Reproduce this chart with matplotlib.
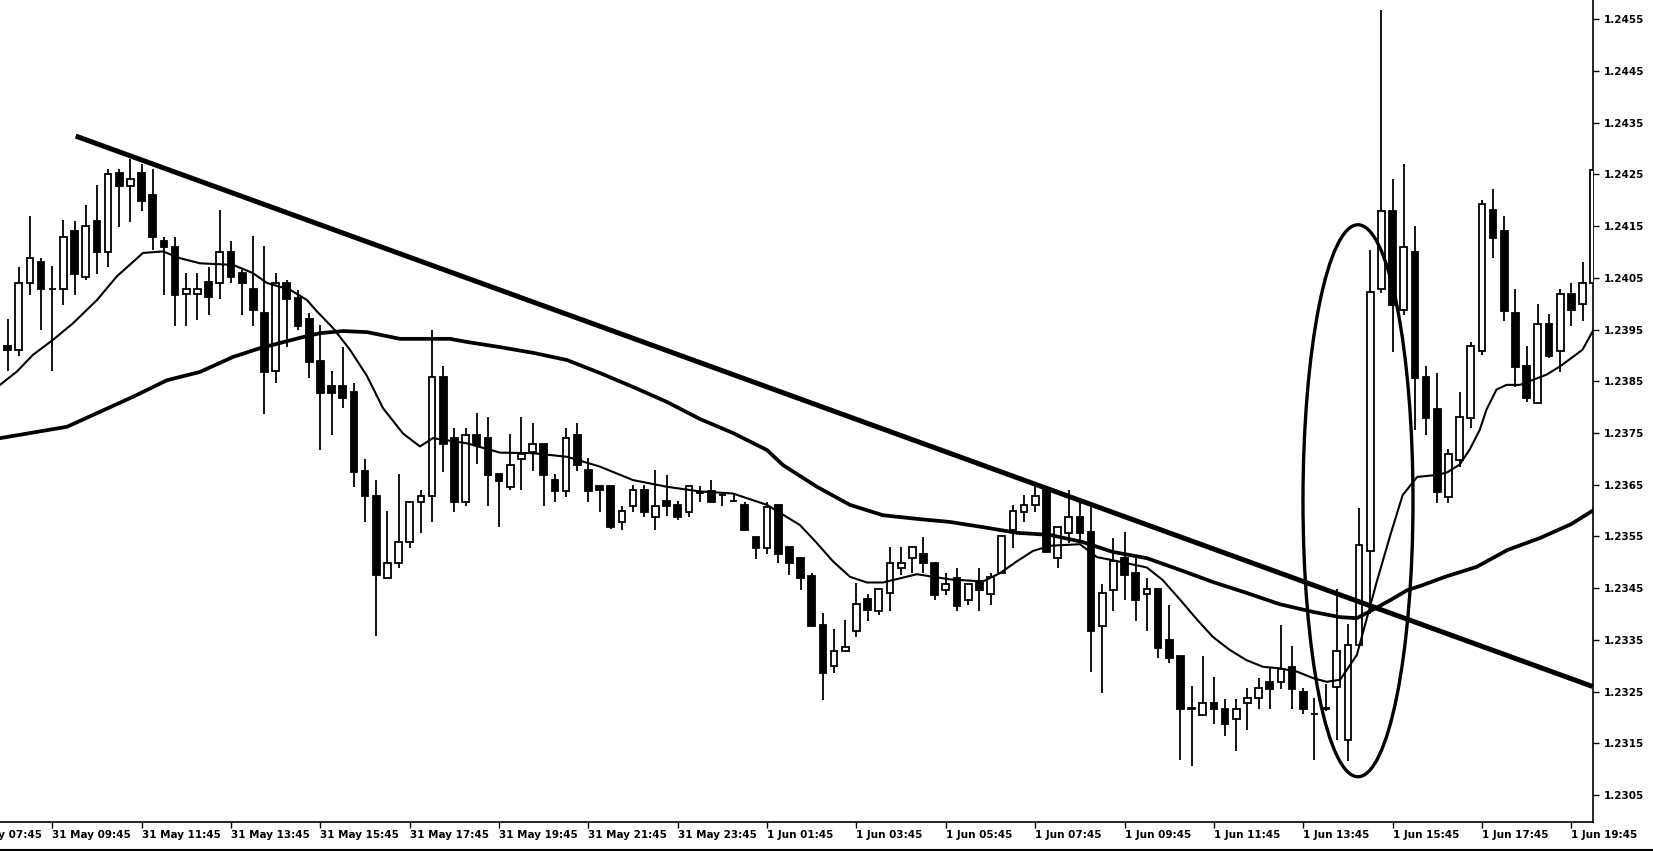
import matplotlib
matplotlib.use("Agg")
import matplotlib.pyplot as plt
from matplotlib.patches import Ellipse
from matplotlib.lines import Line2D
import numpy as np

# 15-minute candles, 31 May 08:45 .. 1 Jun 20:15
opens = [1.23919, 1.23910, 1.24040, 1.24080, 1.24028, 1.24028, 1.24141, 1.24051, 1.24159, 1.24099,
         1.24252, 1.24228, 1.24252, 1.24210, 1.24122, 1.24110, 1.24019, 1.24019, 1.24041, 1.24040,
         1.24099, 1.24059, 1.24029, 1.23982, 1.23869, 1.24040, 1.24011, 1.23970, 1.23889, 1.23840,
         1.23840, 1.23829, 1.23677, 1.23628, 1.23469, 1.23498, 1.23539, 1.23617, 1.23628, 1.23859,
         1.23740, 1.23616, 1.23747, 1.23740, 1.23670, 1.23646, 1.23699, 1.23714, 1.23728, 1.23659,
         1.23638, 1.23747, 1.23679, 1.23648, 1.23648, 1.23577, 1.23609, 1.23639, 1.23588, 1.23619,
         1.23611, 1.23598, 1.23634, 1.23638, 1.23630, 1.23619, 1.23611, 1.23548, 1.23527, 1.23611,
         1.23529, 1.23508, 1.23473, 1.23379, 1.23299, 1.23328, 1.23368, 1.23429, 1.23405, 1.23440,
         1.23489, 1.23508, 1.23517, 1.23499, 1.23447, 1.23470, 1.23427, 1.23463, 1.23439, 1.23479,
         1.23563, 1.23598, 1.23610, 1.23640, 1.23508, 1.23557, 1.23588, 1.23559, 1.23377, 1.23447,
         1.23508, 1.23479, 1.23439, 1.23449, 1.23349, 1.23319, 1.23216, 1.23205, 1.23229, 1.23217,
         1.23198, 1.23229, 1.23237, 1.23269, 1.23269, 1.23298, 1.23249, 1.23206, 1.23216, 1.23259,
         1.23157, 1.23340, 1.23522, 1.24028, 1.24179, 1.23988, 1.24100, 1.23858, 1.23796, 1.23626,
         1.23698, 1.23779, 1.23908, 1.24181, 1.24140, 1.23982, 1.23879, 1.23808, 1.23961, 1.23908,
         1.24019, 1.23999, 1.24040]
highs = [1.23970, 1.24071, 1.24170, 1.24089, 1.24072, 1.24161, 1.24159, 1.24191, 1.24230, 1.24260,
         1.24260, 1.24279, 1.24270, 1.24260, 1.24128, 1.24128, 1.24059, 1.24059, 1.24070, 1.24181,
         1.24122, 1.24065, 1.24130, 1.24112, 1.24059, 1.24045, 1.24027, 1.23982, 1.23959, 1.23870,
         1.23917, 1.23847, 1.23699, 1.23659, 1.23600, 1.23670, 1.23617, 1.23640, 1.23950, 1.23879,
         1.23759, 1.23759, 1.23789, 1.23780, 1.23670, 1.23748, 1.23780, 1.23770, 1.23728, 1.23670,
         1.23759, 1.23770, 1.23701, 1.23648, 1.23648, 1.23609, 1.23649, 1.23649, 1.23679, 1.23669,
         1.23619, 1.23648, 1.23648, 1.23659, 1.23633, 1.23633, 1.23616, 1.23548, 1.23617, 1.23611,
         1.23529, 1.23508, 1.23479, 1.23402, 1.23371, 1.23389, 1.23460, 1.23439, 1.23449, 1.23529,
         1.23529, 1.23529, 1.23548, 1.23499, 1.23479, 1.23489, 1.23459, 1.23489, 1.23479, 1.23550,
         1.23611, 1.23630, 1.23648, 1.23640, 1.23569, 1.23640, 1.23617, 1.23610, 1.23458, 1.23547,
         1.23559, 1.23514, 1.23469, 1.23449, 1.23418, 1.23319, 1.23260, 1.23319, 1.23278, 1.23236,
         1.23236, 1.23258, 1.23277, 1.23295, 1.23378, 1.23338, 1.23258, 1.23237, 1.23265, 1.23448,
         1.23381, 1.23605, 1.24103, 1.24568, 1.24241, 1.24270, 1.24150, 1.23880, 1.23866, 1.23719,
         1.23829, 1.23925, 1.24200, 1.24222, 1.24169, 1.24028, 1.23918, 1.23999, 1.23980, 1.24028,
         1.24040, 1.24081, 1.24440]
lows = [1.23869, 1.23898, 1.24017, 1.23950, 1.23869, 1.23998, 1.24017, 1.24045, 1.24058, 1.24071,
        1.24149, 1.24157, 1.24180, 1.24104, 1.24017, 1.23957, 1.23957, 1.23968, 1.23979, 1.24009,
        1.24039, 1.23979, 1.23957, 1.23787, 1.23847, 1.23917, 1.23950, 1.23856, 1.23717, 1.23746,
        1.23798, 1.23646, 1.23577, 1.23357, 1.23469, 1.23489, 1.23527, 1.23557, 1.23577, 1.23675,
        1.23598, 1.23608, 1.23691, 1.23608, 1.23569, 1.23639, 1.23639, 1.23677, 1.23608, 1.23617,
        1.23627, 1.23677, 1.23617, 1.23598, 1.23565, 1.23563, 1.23598, 1.23588, 1.23563, 1.23590,
        1.23582, 1.23587, 1.23617, 1.23616, 1.23609, 1.23616, 1.23563, 1.23506, 1.23517, 1.23498,
        1.23476, 1.23447, 1.23376, 1.23234, 1.23286, 1.23328, 1.23356, 1.23386, 1.23398, 1.23405,
        1.23476, 1.23479, 1.23479, 1.23427, 1.23437, 1.23405, 1.23418, 1.23405, 1.23418, 1.23479,
        1.23527, 1.23577, 1.23598, 1.23519, 1.23489, 1.23537, 1.23537, 1.23288, 1.23247, 1.23405,
        1.23427, 1.23386, 1.23368, 1.23315, 1.23306, 1.23117, 1.23106, 1.23205, 1.23187, 1.23165,
        1.23136, 1.23176, 1.23216, 1.23216, 1.23256, 1.23216, 1.23206, 1.23117, 1.23213, 1.23157,
        1.23116, 1.23340, 1.23400, 1.24020, 1.23907, 1.23978, 1.23756, 1.23746, 1.23615, 1.23615,
        1.23685, 1.23760, 1.23900, 1.24088, 1.23967, 1.23839, 1.23809, 1.23808, 1.23895, 1.23868,
        1.23957, 1.23967, 1.24040]
closes = [1.23910, 1.24040, 1.24089, 1.24028, 1.24029, 1.24129, 1.24058, 1.24151, 1.24099, 1.24250,
          1.24228, 1.24241, 1.24199, 1.24128, 1.24109, 1.24017, 1.24028, 1.24028, 1.24013, 1.24099,
          1.24051, 1.24040, 1.23987, 1.23868, 1.24040, 1.24009, 1.23956, 1.23887, 1.23827, 1.23828,
          1.23817, 1.23675, 1.23628, 1.23476, 1.23498, 1.23539, 1.23617, 1.23629, 1.23859, 1.23729,
          1.23617, 1.23746, 1.23727, 1.23668, 1.23658, 1.23689, 1.23709, 1.23728, 1.23669, 1.23638,
          1.23740, 1.23688, 1.23637, 1.23639, 1.23569, 1.23599, 1.23639, 1.23598, 1.23609, 1.23609,
          1.23588, 1.23648, 1.23635, 1.23617, 1.23630, 1.23619, 1.23563, 1.23527, 1.23606, 1.23517,
          1.23498, 1.23469, 1.23376, 1.23286, 1.23329, 1.23337, 1.23419, 1.23407, 1.23449, 1.23499,
          1.23498, 1.23529, 1.23498, 1.23437, 1.23459, 1.23416, 1.23459, 1.23447, 1.23472, 1.23550,
          1.23600, 1.23610, 1.23629, 1.23519, 1.23569, 1.23588, 1.23556, 1.23368, 1.23440, 1.23502,
          1.23476, 1.23427, 1.23448, 1.23335, 1.23315, 1.23216, 1.23218, 1.23229, 1.23216, 1.23187,
          1.23217, 1.23237, 1.23258, 1.23256, 1.23293, 1.23256, 1.23216, 1.23207, 1.23219, 1.23329,
          1.23340, 1.23534, 1.24022, 1.24179, 1.23997, 1.24110, 1.23856, 1.23779, 1.23635, 1.23709,
          1.23781, 1.23918, 1.24193, 1.24127, 1.23986, 1.23878, 1.23818, 1.23961, 1.23899, 1.24019,
          1.23988, 1.24040, 1.24258]

# moving averages (bar position, price)
fast_ma_x = [-0.68, 0.84, 2.27, 4.06, 5.85, 8.0, 9.79, 12.12, 13.91, 15.43, 17.22, 20.18, 21.97, 23.22,
             25.28, 26.8, 27.7, 29.13, 30.65, 32.18, 33.61, 35.4, 36.92, 38.08, 41.13, 44.08, 47.04,
             50.08, 53.03, 55.99, 59.03, 61.99, 64.94, 67.99, 70.94, 72.46, 73.89, 75.42, 76.94, 78.37,
             79.89, 81.41, 84.37, 87.32, 88.84, 90.37, 91.8, 93.32, 96.01, 97.53, 98.96, 102.0, 103.4,
             105.0, 106.5, 107.9, 109.4, 110.9, 112.4, 113.9, 115.4, 116.9, 118.1, 119.3, 120.8, 122.6,
             123.8, 124.9, 126.2, 128.0, 128.9, 130.0, 130.9, 131.8, 132.4, 133.3, 134.2, 135.4, 136.6,
             137.8, 139.0, 140.2, 141.0, 142.0]
fast_ma_y = [1.23843, 1.23869, 1.23901, 1.23930, 1.23962, 1.24007, 1.24053, 1.24098, 1.24101, 1.24088,
             1.24078, 1.24075, 1.24059, 1.24040, 1.24027, 1.24007, 1.23985, 1.23953, 1.23911, 1.23860,
             1.23798, 1.23749, 1.23724, 1.23740, 1.23730, 1.23712, 1.23711, 1.23704, 1.23685, 1.23659,
             1.23646, 1.23637, 1.23633, 1.23611, 1.23572, 1.23537, 1.23502, 1.23472, 1.23461, 1.23461,
             1.23469, 1.23477, 1.23467, 1.23463, 1.23479, 1.23502, 1.23522, 1.23532, 1.23535, 1.23510,
             1.23504, 1.23490, 1.23466, 1.23427, 1.23389, 1.23356, 1.23331, 1.23311, 1.23298, 1.23295,
             1.23289, 1.23276, 1.23269, 1.23273, 1.23321, 1.23464, 1.23553, 1.23630, 1.23665, 1.23669,
             1.23674, 1.23689, 1.23718, 1.23756, 1.23795, 1.23834, 1.23843, 1.23843, 1.23853, 1.23863,
             1.23879, 1.23898, 1.23911, 1.23950]
slow_ma_x = [-0.68, 5.32, 8.27, 11.23, 14.27, 17.22, 20.18, 22.6, 26.18, 27.97, 30.03, 32.18, 35.13,
             39.61, 41.13, 44.08, 47.04, 50.08, 53.03, 55.99, 59.03, 61.99, 64.94, 67.99, 69.42, 72.46,
             75.42, 78.37, 81.41, 84.37, 87.32, 90.37, 93.32, 96.28, 98.96, 102.0, 105.0, 107.9, 110.9,
             113.9, 116.9, 119.3, 120.8, 122.2, 123.8, 125.3, 126.7, 128.7, 131.5, 134.3, 137.2, 140.0,
             142.0]
slow_ma_y = [1.23740, 1.23762, 1.23791, 1.23820, 1.23852, 1.23868, 1.23897, 1.23914, 1.23934, 1.23943,
             1.23947, 1.23945, 1.23932, 1.23932, 1.23926, 1.23916, 1.23905, 1.23891, 1.23866, 1.23839,
             1.23810, 1.23777, 1.23750, 1.23717, 1.23688, 1.23646, 1.23611, 1.23591, 1.23584, 1.23578,
             1.23568, 1.23557, 1.23553, 1.23539, 1.23520, 1.23508, 1.23485, 1.23462, 1.23441, 1.23419,
             1.23404, 1.23394, 1.23392, 1.23408, 1.23427, 1.23446, 1.23456, 1.23472, 1.23491, 1.23524,
             1.23547, 1.23574, 1.23601]

# hand-drawn trend line and ellipse
trend_x = [6.1, 141.9]
trend_y = [1.24324, 1.23260]
ellipse_center = (120.9, 1.23619)
ellipse_w, ellipse_h = 9.85, 0.01067

price_ticks = [1.2305, 1.2315, 1.2325, 1.2335, 1.2345, 1.2355, 1.2365, 1.2375,
               1.2385, 1.2395, 1.2405, 1.2415, 1.2425, 1.2435, 1.2445, 1.2455]
time_labels = ['31 May 07:45', '31 May 09:45', '31 May 11:45', '31 May 13:45', '31 May 15:45',
               '31 May 17:45', '31 May 19:45', '31 May 21:45', '31 May 23:45', '1 Jun 01:45',
               '1 Jun 03:45', '1 Jun 05:45', '1 Jun 07:45', '1 Jun 09:45', '1 Jun 11:45',
               '1 Jun 13:45', '1 Jun 15:45', '1 Jun 17:45', '1 Jun 19:45']
time_label_bars = [-4, 4, 12, 20, 28, 36, 44, 52, 60, 68, 76, 84, 92, 100, 108, 116, 124, 132, 140]

o = np.array(opens)
h = np.array(highs)
l = np.array(lows)
c = np.array(closes)
x = np.arange(len(o))

fig = plt.figure(figsize=(16.53, 8.51), dpi=100)
ax = fig.add_axes([0, 29 / 851, 1593 / 1653, 822 / 851])

# wicks then bodies (white body hides the wick inside it)
ax.vlines(x, l, h, color='black', linewidth=1.3, zorder=2)
up = c >= o
body_bottom = np.minimum(o, c)
body_height = np.abs(c - o)
ax.bar(x[up], body_height[up], bottom=body_bottom[up], width=0.6,
       facecolor='white', edgecolor='black', linewidth=1.3, zorder=3)
ax.bar(x[~up], body_height[~up], bottom=body_bottom[~up], width=0.6,
       facecolor='black', edgecolor='black', linewidth=1.3, zorder=3)

ax.plot(slow_ma_x, slow_ma_y, color='black', linewidth=2.7, zorder=4)
ax.plot(fast_ma_x, fast_ma_y, color='black', linewidth=1.5, zorder=4)
ax.plot(trend_x, trend_y, color='black', linewidth=3.6, solid_capstyle='butt', zorder=5)
ax.add_patch(Ellipse(ellipse_center, ellipse_w, ellipse_h, fill=False,
                     edgecolor='black', linewidth=2.4, zorder=5))

ax.set_xlim(-0.68, 141.94)
ax.set_ylim(1.22998, 1.24587)

# axes look
for side in ['top', 'left']:
    ax.spines[side].set_visible(False)
for side in ['right', 'bottom']:
    ax.spines[side].set_linewidth(1.2)
ax.yaxis.tick_right()
ax.set_yticks(price_ticks)
ax.set_yticklabels([f'{p:.4f}' for p in price_ticks], fontweight='bold')
ax.tick_params(axis='y', direction='out', length=4, width=1, pad=4, labelsize=7.5)
ax.set_xticks([b for b in time_label_bars if b >= 0])
ax.set_xticklabels([])
ax.tick_params(axis='x', direction='out', length=4, width=1)

for lab, b in zip(time_labels, time_label_bars):
    ax.annotate(lab, xy=(b, 0), xycoords=('data', 'axes fraction'), xytext=(0, -6),
                textcoords='offset points', ha='left', va='top', fontsize=7.5,
                fontweight='bold', annotation_clip=False)

fig.add_artist(Line2D([0, 1], [0.0015, 0.0015], transform=fig.transFigure,
                      color='black', linewidth=1.5))

fig.savefig('out.png', dpi=100, facecolor='white')
